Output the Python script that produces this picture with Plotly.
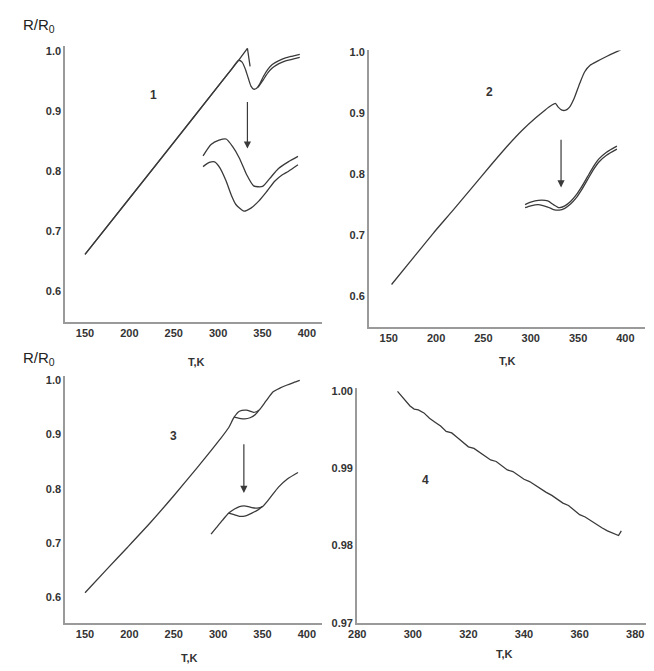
import plotly.graph_objects as go

W, H = 654, 671
OFF = 8                     # default page body margin
FW, FH = W - OFF, H - OFF   # figure size so that it fills the window

# ---------------- data ----------------
# Panel 1
p1_a_x = [150, 200, 250, 300, 315, 323, 333, 336]
p1_a_y = [0.662, 0.755, 0.848, 0.942, 0.970, 0.985, 1.005, 0.975]
p1_b_x = [150, 200, 250, 300, 315, 323, 327, 331, 334, 337, 340, 343, 347, 351, 356, 361, 368, 376, 384, 392]
p1_b_y = [0.662, 0.755, 0.848, 0.942, 0.970, 0.985, 0.982, 0.969, 0.955, 0.942, 0.937, 0.938, 0.946, 0.958, 0.970, 0.978, 0.984, 0.989, 0.992, 0.995]
p1_c_x = [345, 351, 356, 361, 368, 376, 384, 392]
p1_c_y = [0.940, 0.953, 0.964, 0.972, 0.979, 0.984, 0.987, 0.990]
p1_in_up_x = [283, 292, 301, 309, 316, 324, 332, 340, 350, 358, 368, 379, 390]
p1_in_up_y = [0.826, 0.845, 0.852, 0.854, 0.842, 0.822, 0.795, 0.776, 0.775, 0.788, 0.805, 0.816, 0.825]
p1_in_lo_x = [283, 290, 296, 302, 309, 315, 320, 329, 337, 346, 355, 364, 372, 379, 390]
p1_in_lo_y = [0.808, 0.815, 0.816, 0.806, 0.784, 0.760, 0.745, 0.734, 0.739, 0.751, 0.767, 0.784, 0.794, 0.800, 0.811]

# Panel 2
p2_x = [153, 175, 197, 218, 238, 258, 277, 291, 305, 315, 322, 326, 329, 333, 337, 341, 346, 352, 357, 363, 370, 380, 388, 395]
p2_y = [0.619, 0.661, 0.703, 0.741, 0.778, 0.815, 0.849, 0.872, 0.892, 0.905, 0.913, 0.916, 0.910, 0.905, 0.905, 0.910, 0.925, 0.950, 0.968, 0.979, 0.985, 0.993, 0.999, 1.004]
p2_in_x = [294, 300, 308, 318, 324, 330, 336, 342, 348, 354, 360, 366, 372, 380, 391]
p2_in_up_y = [0.750, 0.754, 0.757, 0.756, 0.750, 0.745, 0.748, 0.755, 0.766, 0.780, 0.796, 0.812, 0.825, 0.836, 0.846]
p2_in_lo_y = [0.745, 0.748, 0.750, 0.746, 0.742, 0.741, 0.744, 0.751, 0.761, 0.775, 0.791, 0.807, 0.820, 0.831, 0.841]

# Panel 3
p3_a_x = [150, 175, 198, 224, 250, 276, 302, 312, 318, 324, 332, 340, 346, 354, 362, 370, 377, 385, 392]
p3_a_y = [0.608, 0.652, 0.692, 0.738, 0.787, 0.838, 0.891, 0.913, 0.932, 0.943, 0.945, 0.941, 0.945, 0.962, 0.979, 0.986, 0.991, 0.996, 1.000]
p3_b_x = [318, 324, 330, 336, 342, 346]
p3_b_y = [0.932, 0.930, 0.929, 0.931, 0.937, 0.945]
p3_in_a_x = [292, 298, 305, 312, 318, 324, 331, 338, 344, 350, 358, 368, 378, 390]
p3_in_a_y = [0.716, 0.728, 0.742, 0.755, 0.762, 0.767, 0.768, 0.765, 0.764, 0.767, 0.782, 0.803, 0.818, 0.830]
p3_in_b_x = [312, 318, 324, 331, 338, 344, 350]
p3_in_b_y = [0.755, 0.752, 0.749, 0.750, 0.755, 0.760, 0.767]

# Panel 4
p4_x = [294.5, 296, 297.5, 299, 300.5, 302, 304, 306, 308, 310, 312, 314, 316, 318, 320, 322, 324, 326, 328, 330,
        332, 334, 336, 338, 340, 342, 344, 346, 348, 350, 352, 354, 356, 358, 360, 362, 364, 366, 368, 370, 372, 374, 375]
p4_y = [1.0000, 0.9994, 0.9987, 0.9981, 0.9977, 0.9976, 0.9972, 0.9965, 0.9960, 0.9955, 0.9948, 0.9946, 0.9940, 0.9934,
        0.9928, 0.9926, 0.9921, 0.9915, 0.9911, 0.9909, 0.9904, 0.9898, 0.9896, 0.9891, 0.9886, 0.9883, 0.9878, 0.9873,
        0.9869, 0.9865, 0.9860, 0.9855, 0.9852, 0.9846, 0.9840, 0.9837, 0.9832, 0.9828, 0.9823, 0.9819, 0.9816, 0.9813, 0.9819]

x_ticks_123 = [150, 200, 250, 300, 350, 400]
y_ticks_123 = [0.6, 0.7, 0.8, 0.9, 1.0]
x_ticks_4 = [280, 300, 320, 340, 360, 380]
y_ticks_4 = [0.97, 0.98, 0.99, 1.00]

panel_labels = ["1", "2", "3", "4"]
label_pos = [(227, 0.928), (256, 0.934), (250, 0.897), (304.7, 0.9885)]
arrows = [(333, 0.918, 0.838), (332, 0.859, 0.778), (329, 0.885, 0.792)]

# ---------------- figure ----------------
LINE = dict(color="#3a3a3a", width=1.3)
fig = go.Figure()

def add(x, y, k, shape="spline"):
    xa = "x" if k == 1 else f"x{k}"
    ya = "y" if k == 1 else f"y{k}"
    ln = dict(LINE, shape=shape)
    if shape == "spline":
        ln["smoothing"] = 0.6
    fig.add_trace(go.Scatter(x=x, y=y, mode="lines", line=ln, xaxis=xa, yaxis=ya,
                             showlegend=False, hoverinfo="skip"))

add(p1_a_x, p1_a_y, 1, "linear"); add(p1_b_x, p1_b_y, 1); add(p1_c_x, p1_c_y, 1)
add(p1_in_up_x, p1_in_up_y, 1); add(p1_in_lo_x, p1_in_lo_y, 1)
add(p2_x, p2_y, 2); add(p2_in_x, p2_in_up_y, 2); add(p2_in_x, p2_in_lo_y, 2)
add(p3_a_x, p3_a_y, 3); add(p3_b_x, p3_b_y, 3); add(p3_in_a_x, p3_in_a_y, 3); add(p3_in_b_x, p3_in_b_y, 3)
add(p4_x, p4_y, 4, "linear")

def px(a, b):
    return [(a - OFF) / FW, (b - OFF) / FW]

def py(top, bottom):
    return [1 - (bottom - OFF) / FH, 1 - (top - OFF) / FH]

TICKFONT = dict(family="Liberation Sans", size=11, color="#333333", weight="bold")
AX = dict(showgrid=False, zeroline=False, showline=True, linecolor="#9a9a9a", linewidth=2,
          ticks="", tickfont=TICKFONT, fixedrange=True)

doms = {
    1: (px(57, 317), py(43, 323), [127.8, 416.7], [0.549, 1.008]),
    2: (px(365, 645), py(47, 328), [129.2, 420.8], [0.549, 1.003]),
    3: (px(57, 317), py(378, 628), [127.8, 416.7], [0.5527, 1.0073]),
    4: (px(353, 653), py(390, 628), [280.0, 386.4], [0.97, 1.0004]),
}
layout = {}
for k, (dx, dy, rx, ry) in doms.items():
    xn = "xaxis" if k == 1 else f"xaxis{k}"
    yn = "yaxis" if k == 1 else f"yaxis{k}"
    xa = "x" if k == 1 else f"x{k}"
    ya = "y" if k == 1 else f"y{k}"
    xt = x_ticks_4 if k == 4 else x_ticks_123
    yt = y_ticks_4 if k == 4 else y_ticks_123
    layout[xn] = dict(AX, domain=dx, range=rx, anchor=ya, tickvals=xt, ticktext=[str(v) for v in xt])
    layout[yn] = dict(AX, domain=dy, range=ry, anchor=xa, tickvals=yt,
                      ticktext=[f"{v:.2f}" if k == 4 else f"{v:.1f}" for v in yt])

fig.update_layout(**layout)

ann = []
for i, (t, (lx, ly)) in enumerate(zip(panel_labels, label_pos), start=1):
    xa = "x" if i == 1 else f"x{i}"
    ya = "y" if i == 1 else f"y{i}"
    ann.append(dict(x=lx, y=ly, xref=xa, yref=ya, text=t, showarrow=False,
                    font=dict(family="Liberation Sans", size=12, color="#333333", weight="bold")))
for i, (axx, y0, y1) in enumerate(arrows, start=1):
    xa = "x" if i == 1 else f"x{i}"
    ya = "y" if i == 1 else f"y{i}"
    ann.append(dict(x=axx, y=y1, ax=axx, ay=y0, xref=xa, yref=ya, axref=xa, ayref=ya,
                    text="", showarrow=True, arrowhead=2, arrowsize=1.2, arrowwidth=1.2,
                    arrowcolor="#3a3a3a"))
# axis titles
for (cx, cy) in [(190, 363), (505, 362), (183, 664), (502, 660)]:
    ann.append(dict(x=(cx - OFF) / FW, y=1 - (cy - OFF) / FH, xref="paper", yref="paper", text="T,K",
                    showarrow=False, xanchor="center", yanchor="middle",
                    font=dict(family="Liberation Sans", size=11, color="#333333", weight="bold")))
for cy in [22, 360]:
    ann.append(dict(x=(12 - OFF) / FW, y=1 - (cy - OFF) / FH, xref="paper", yref="paper",
                    text="R/R<sub>0</sub>", showarrow=False, xanchor="left", yanchor="middle",
                    font=dict(family="Liberation Sans", size=15, color="#222222")))

fig.update_layout(width=FW, height=FH, margin=dict(l=0, r=0, t=0, b=0),
                  paper_bgcolor="white", plot_bgcolor="white", annotations=ann)

fig.write_html("out.html")
